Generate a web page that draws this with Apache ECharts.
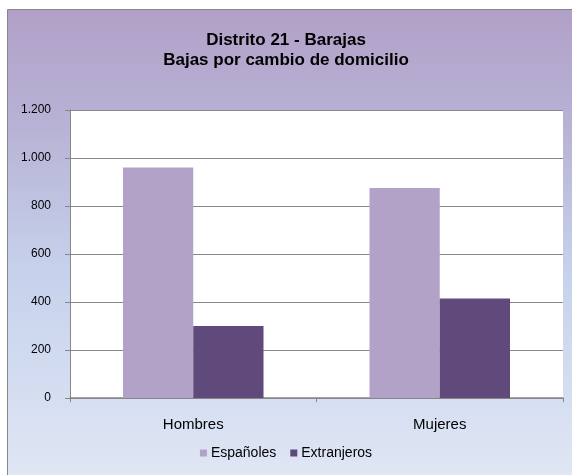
<!DOCTYPE html>
<html>
<head>
    <meta charset="utf-8">
    <title>Distrito 21 - Barajas</title>
    <script src="https://cdn.jsdelivr.net/npm/echarts@6/dist/echarts.min.js"></script>
    <style>
        html, body { margin: 0; padding: 0; background: #fff; }
        #main { width: 572px; height: 475px; }
    </style>
</head>
<body>
<div id="main"></div>
<script type="text/javascript">
    // datos del gráfico
    var categorias = ['Hombres', 'Mujeres'];
    var espanoles = [960, 875];
    var extranjeros = [300, 415];
    var nombresSeries = ['Españoles', 'Extranjeros'];

    var myChart = echarts.init(document.getElementById('main'));

    function miles(v) {
        return String(v).replace(/\B(?=(\d{3})+(?!\d))/g, '.');
    }

    myChart.setOption({
        backgroundColor: '#ffffff',
        textStyle: { fontFamily: 'Liberation Sans, Arial, sans-serif' },
        graphic: [{
            type: 'rect',
            z: -10,
            silent: true,
            shape: { x: 7.5, y: 9.5, width: 580, height: 480 },
            style: {
                fill: new echarts.graphic.LinearGradient(0, 0, 0, 1, [
                    { offset: 0, color: '#b1a0c7' },
                    { offset: 0.25, color: '#b8b3d6' },
                    { offset: 0.55, color: '#c6d2ec' },
                    { offset: 1, color: '#e1e8f5' }
                ]),
                stroke: '#878787',
                lineWidth: 1
            }
        }],
        title: {
            text: 'Distrito 21 - Barajas\nBajas por cambio de domicilio',
            left: 'center',
            top: 25,
            textStyle: {
                fontSize: 17,
                fontWeight: 'bold',
                color: '#000',
                lineHeight: 20
            }
        },
        legend: {
            data: nombresSeries,
            bottom: 10,
            left: 'center',
            itemWidth: 7,
            itemHeight: 7,
            itemGap: 14,
            icon: 'rect',
            textStyle: { fontSize: 14, color: '#000', padding: [0, 0, 0, -1] }
        },
        grid: {
            left: 70,
            right: 9,
            top: 110,
            bottom: 77,
            show: true,
            backgroundColor: '#ffffff',
            borderWidth: 0
        },
        xAxis: {
            type: 'category',
            data: categorias,
            axisLine: { lineStyle: { color: '#878787', width: 1.5 } },
            axisTick: { show: true, length: 4, lineStyle: { color: '#878787' } },
            axisLabel: { color: '#000', fontSize: 15, margin: 19 }
        },
        yAxis: {
            type: 'value',
            min: 0,
            max: 1200,
            interval: 200,
            axisLine: { show: true, lineStyle: { color: '#878787' } },
            axisTick: { show: true, length: 5, lineStyle: { color: '#878787' } },
            axisLabel: { color: '#000', fontSize: 12, margin: 19, formatter: miles },
            splitLine: { lineStyle: { color: '#878787', width: 1 } }
        },
        series: [{
            name: nombresSeries[0],
            type: 'bar',
            data: espanoles,
            barGap: 0,
            barCategoryGap: '43%',
            itemStyle: { color: '#b3a2c7' }
        }, {
            name: nombresSeries[1],
            type: 'bar',
            data: extranjeros,
            barGap: 0,
            barCategoryGap: '43%',
            itemStyle: { color: '#604a7b' }
        }]
    });
</script>
</body>
</html>
